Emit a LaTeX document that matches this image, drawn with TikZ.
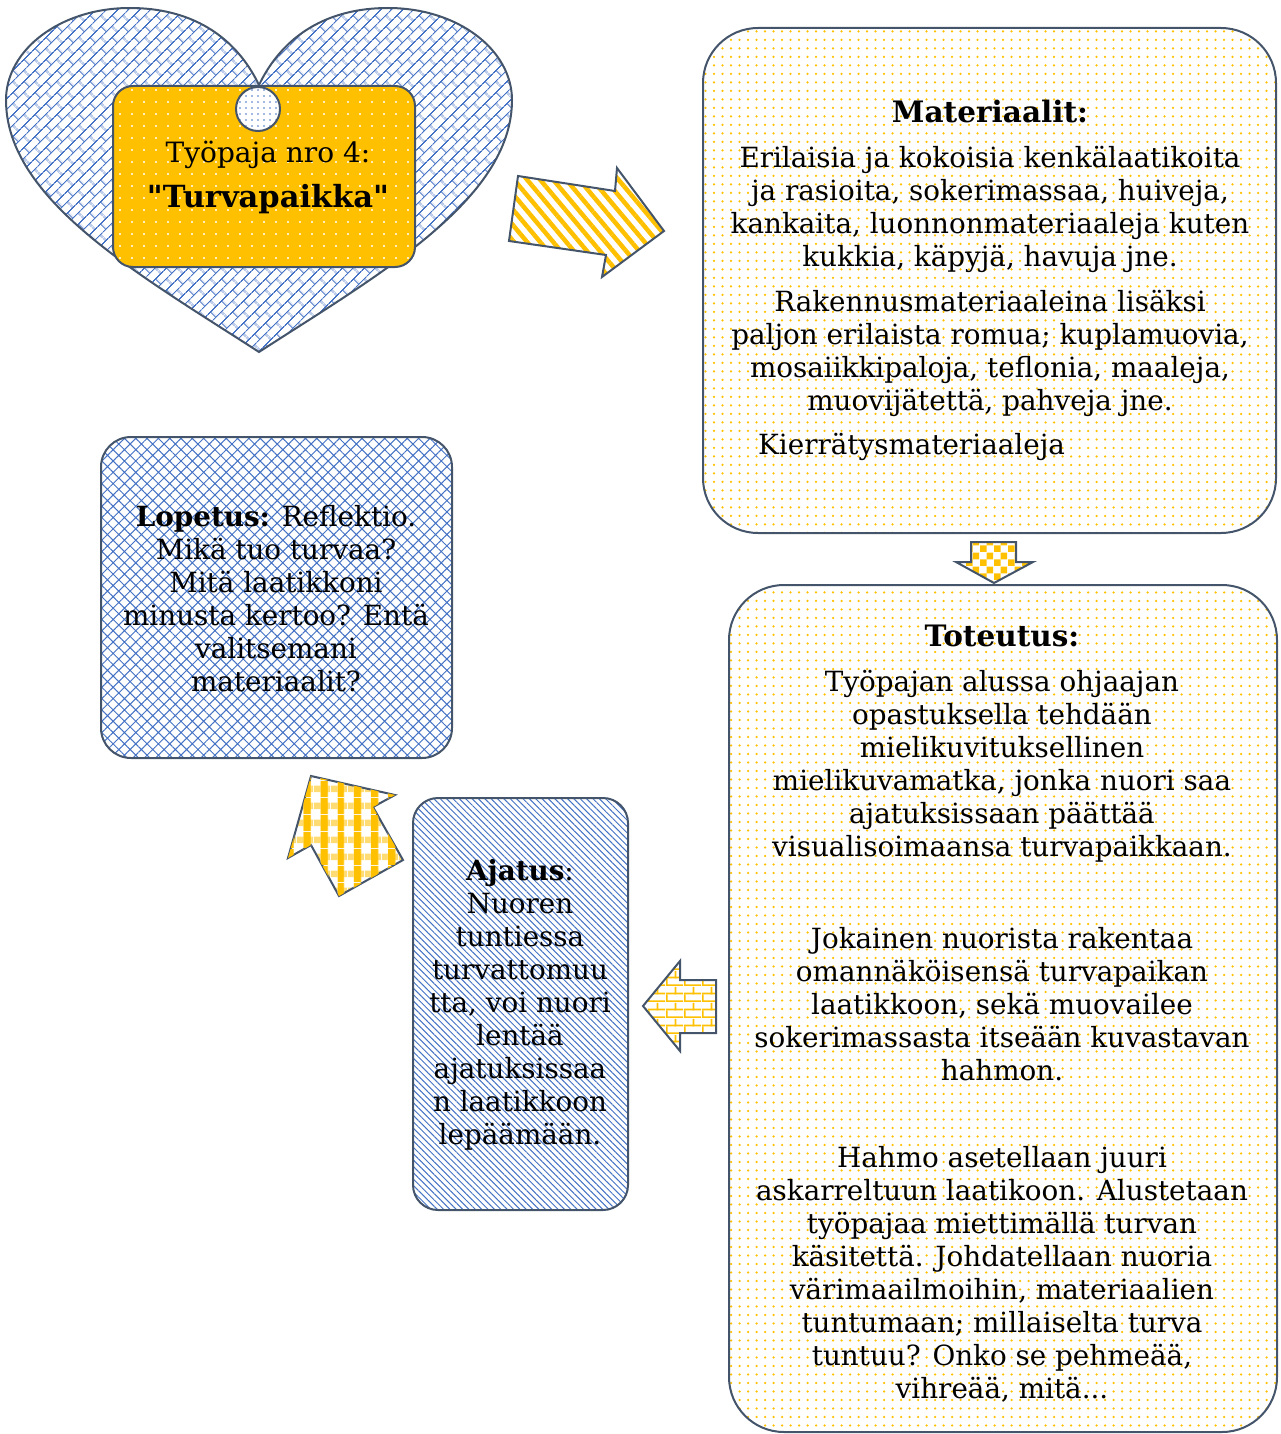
\documentclass[tikz,border=0pt]{standalone}
\usepackage{fontspec}
\setmainfont{DejaVu Serif}[Ligatures=TeXOff]
\usetikzlibrary{patterns,patterns.meta}
\definecolor{gold}{HTML}{FFC000}
\definecolor{slate}{HTML}{44546A}
\definecolor{pblue}{HTML}{4472C4}
\newcommand\mainfs{\fontsize{27.8}{33}\selectfont}
\newcommand\headfs{\fontsize{29.5}{33}\selectfont}
\newcommand\titlefs{\fontsize{28}{45}\selectfont}
\newcommand\titlebfs{\fontsize{30.5}{45}\selectfont}
\tikzdeclarepattern{
  name=diagbricks,
  type=uncolored,
  bounding box={(0pt,0pt) and (16pt,16pt)},
  tile size={(16pt,16pt)},
  tile transformation={rotate=45},
  code={
    \draw[line width=1.2pt] (0pt,4pt) -- (16pt,4pt);
    \draw[line width=1.2pt] (0pt,12pt) -- (16pt,12pt);
    \draw[line width=1.2pt] (4pt,4pt) -- (4pt,12pt);
    \draw[line width=1.2pt] (12pt,12pt) -- (12pt,16pt);
    \draw[line width=1.2pt] (12pt,0pt) -- (12pt,4pt);
  }
}
\tikzdeclarepattern{
  name=mybricks,
  type=uncolored,
  bounding box={(0pt,0pt) and (18pt,16pt)},
  tile size={(18pt,16pt)},
  code={
    \fill (0pt,0pt) rectangle (18pt,1.8pt);
    \fill (0pt,8pt) rectangle (18pt,9.8pt);
    \fill (0pt,0pt) rectangle (1.8pt,8pt);
    \fill (9pt,8pt) rectangle (10.8pt,16pt);
  }
}
\tikzdeclarepattern{
  name=mychecker,
  type=uncolored,
  bounding box={(0pt,0pt) and (14pt,14pt)},
  tile size={(14pt,14pt)},
  code={
    \fill (0pt,0pt) rectangle (7pt,7pt);
    \fill (7pt,7pt) rectangle (14pt,14pt);
  }
}
\tikzset{
  box/.style={draw=slate, line width=2pt, inner sep=0pt, rectangle},
  txt/.style={font=\mainfs, align=center, text=black, inner sep=0pt},
  head/.style={font=\headfs\bfseries, align=center, text=black, inner sep=0pt},
  arrowshape/.style={draw=slate, line width=2pt, line join=miter},
  yellowdots/.style={pattern={Dots[distance=8.5pt,radius=1.25pt]}, pattern color=gold},
}
\begin{document}
\begin{tikzpicture}[x=1pt,y=-1pt]
\useasboundingbox (0,0) rectangle (1281,1434);

% heart
\path[draw=slate, line width=2pt, pattern=diagbricks, pattern color=pblue]
  (259,85) .. controls (235,35) and (190,8) .. (130,8)
  .. controls (60,8) and (6,50) .. (6,100)
  .. controls (6,200) and (140,275) .. (259,352)
  .. controls (378,275) and (512,200) .. (512,100)
  .. controls (512,50) and (458,8) .. (388,8)
  .. controls (328,8) and (283,35) .. (259,85) -- cycle;

% title box
\node[box, rounded corners=20pt, minimum width=302pt, minimum height=181pt,
  preaction={fill=gold}, pattern={Dots[distance=12pt,radius=1.2pt]}, pattern color=white]
  (title) at (264,176.5) {};
\node[box, circle, minimum size=44pt, preaction={fill=white},
  pattern={Dots[distance=6pt,radius=0.9pt]}, pattern color=pblue]
  (hole) at (258,109) {};
\node[txt, font=\titlefs] (titletxt) at (268,177) {Työpaja nro 4:\\{\titlebfs\bfseries "Turvapaikka"}};

% arrow 1 (striped)
\path[arrowshape, pattern={Lines[angle=-50,distance=10pt,line width=4.5pt]}, pattern color=gold]
  (518,176) -- (615,191) -- (617,168) -- (664,231) -- (602,277) -- (606,255) -- (509,241) -- cycle;

% Materiaalit box
\node[box, rounded corners=55pt, minimum width=573pt, minimum height=505pt, yellowdots]
  (mat) at (989.5,280.5) {};
\node[head] (mathead) at (990,112) {Materiaalit:};
\node[txt] (matp1) at (990,209) {Erilaisia ja kokoisia kenkälaatikoita\\ja rasioita, sokerimassaa, huiveja,\\kankaita, luonnonmateriaaleja kuten\\kukkia, käpyjä, havuja jne.};
\node[txt] (matp2) at (990,353) {Rakennusmateriaaleina lisäksi\\paljon erilaista romua; kuplamuovia,\\mosaiikkipaloja, teflonia, maaleja,\\muovijätettä, pahveja jne.};
\node[txt, anchor=west] (matp3) at (758,447) {Kierrätysmateriaaleja};

% down arrow (checker)
\path[arrowshape, pattern=mychecker, pattern color=gold]
  (971,542) -- (1016,542) -- (1016,562) -- (1033,562) -- (994,583) -- (956,562) -- (971,562) -- cycle;

% Toteutus box
\node[box, rounded corners=55pt, minimum width=548pt, minimum height=847pt, yellowdots]
  (tot) at (1003,1008.5) {};
\node[head] (tothead) at (1002,636) {Toteutus:};
\node[txt] (totp1) at (1002,766) {Työpajan alussa ohjaajan\\opastuksella tehdään\\mielikuvituksellinen\\mielikuvamatka, jonka nuori saa\\ajatuksissaan päättää\\visualisoimaansa turvapaikkaan.};
\node[txt] (totp2) at (1002,1004) {Jokainen nuorista rakentaa\\omannäköisensä turvapaikan\\laatikkoon, sekä muovailee\\sokerimassasta itseään kuvastavan\\hahmon.};
\node[txt] (totp3) at (1002,1274) {Hahmo asetellaan juuri\\askarreltuun laatikoon. Alustetaan\\työpajaa miettimällä turvan\\käsitettä. Johdatellaan nuoria\\värimaailmoihin, materiaalien\\tuntumaan; millaiselta turva\\tuntuu? Onko se pehmeää,\\vihreää, mitä...};

% left arrow (bricks)
\path[arrowshape, pattern=mybricks, pattern color=gold]
  (643,1006) -- (680,961) -- (680,980) -- (716,980) -- (716,1033) -- (680,1033) -- (680,1051) -- cycle;

% Ajatus box
\node[box, rounded corners=25pt, minimum width=215pt, minimum height=412pt,
  pattern={Lines[angle=-45,distance=4.5pt,line width=1pt]}, pattern color=pblue]
  (aja) at (520.5,1004) {};
\node[txt] (ajatxt) at (520,1005) {\textbf{Ajatus}:\\Nuoren\\tuntiessa\\turvattomuu\\tta, voi nuori\\lentää\\ajatuksissaa\\n laatikkoon\\lepäämään.};

% up-left arrow (gingham)
\path[arrowshape, pattern={Lines[angle=0,distance=17pt,line width=7pt]}, pattern color=gold!55,
  postaction={pattern={Lines[angle=90,distance=17pt,line width=8pt]}, pattern color=gold}]
  (311,776) -- (395,795) -- (373,807) -- (403,860) -- (339,896) -- (311,845) -- (288,858) -- cycle;

% Lopetus box
\node[box, rounded corners=30pt, minimum width=351pt, minimum height=321pt,
  pattern={Hatch[angle=45,distance=8pt,line width=1pt]}, pattern color=pblue]
  (lop) at (276.5,597.5) {};
\node[txt] (loptxt) at (276,599) {\textbf{Lopetus:} Reflektio.\\Mikä tuo turvaa?\\Mitä laatikkoni\\minusta kertoo? Entä\\valitsemani\\materiaalit?};
\end{tikzpicture}
\end{document}
